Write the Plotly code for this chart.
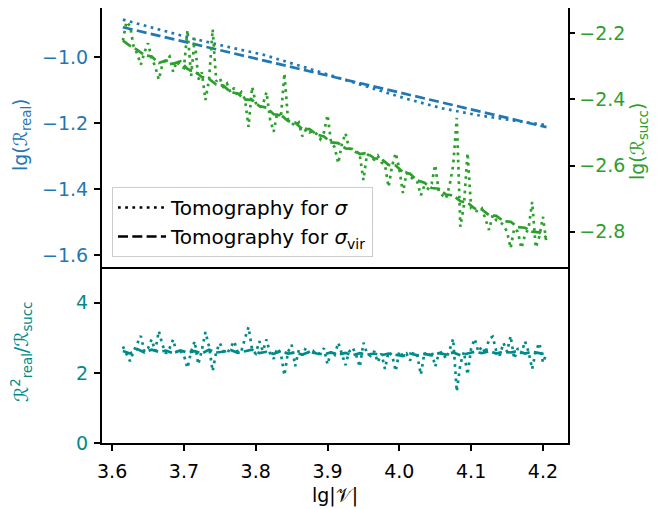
import plotly.graph_objects as go

# lg|V| sample points (fine grid for the noisy sigma runs, every 2nd one for sigma_vir)
x_fine = [3.615, 3.620, 3.625, 3.630, 3.635, 3.640, 3.645, 3.650, 3.655, 3.660,
          3.665, 3.670, 3.675, 3.680, 3.685, 3.690, 3.695, 3.700, 3.705, 3.710,
          3.715, 3.720, 3.725, 3.730, 3.735, 3.740, 3.745, 3.750, 3.755, 3.760,
          3.765, 3.770, 3.775, 3.780, 3.785, 3.790, 3.795, 3.800, 3.805, 3.810,
          3.815, 3.820, 3.825, 3.830, 3.835, 3.840, 3.845, 3.850, 3.855, 3.860,
          3.865, 3.870, 3.875, 3.880, 3.885, 3.890, 3.895, 3.900, 3.905, 3.910,
          3.915, 3.920, 3.925, 3.930, 3.935, 3.940, 3.945, 3.950, 3.955, 3.960,
          3.965, 3.970, 3.975, 3.980, 3.985, 3.990, 3.995, 4.000, 4.005, 4.010,
          4.015, 4.020, 4.025, 4.030, 4.035, 4.040, 4.045, 4.050, 4.055, 4.060,
          4.065, 4.070, 4.075, 4.080, 4.085, 4.090, 4.095, 4.100, 4.105, 4.110,
          4.115, 4.120, 4.125, 4.130, 4.135, 4.140, 4.145, 4.150, 4.155, 4.160,
          4.165, 4.170, 4.175, 4.180, 4.185, 4.190, 4.195, 4.200, 4.205]
x_coarse = x_fine[::2]
x_blue = [3.615, 3.66, 3.71, 3.76, 3.81, 3.86, 3.91, 3.96, 4.01, 4.06, 4.11, 4.16, 4.205]

# lg(R_real)
real_sigma = [-0.886, -0.912, -0.942, -0.968, -0.992, -1.025, -1.058,
              -1.092, -1.126, -1.155, -1.176, -1.192, -1.206]
real_vir = [-0.909, -0.932, -0.958, -0.984, -1.010, -1.035, -1.061,
            -1.086, -1.112, -1.138, -1.163, -1.189, -1.212]

# lg(R_succ)
succ_sigma = [-2.222, -2.165, -2.178, -2.240, -2.262, -2.295, -2.258, -2.230, -2.275, -2.300,
              -2.340, -2.295, -2.280, -2.270, -2.316, -2.285, -2.300, -2.305, -2.190, -2.330,
              -2.215, -2.340, -2.318, -2.402, -2.340, -2.188, -2.345, -2.335, -2.365, -2.352,
              -2.380, -2.365, -2.390, -2.378, -2.400, -2.483, -2.362, -2.410, -2.425, -2.415,
              -2.378, -2.460, -2.498, -2.440, -2.455, -2.321, -2.462, -2.470, -2.480, -2.470,
              -2.512, -2.490, -2.500, -2.495, -2.505, -2.520, -2.500, -2.447, -2.530, -2.545,
              -2.593, -2.535, -2.502, -2.548, -2.555, -2.560, -2.570, -2.644, -2.565, -2.575,
              -2.582, -2.570, -2.590, -2.598, -2.665, -2.600, -2.562, -2.610, -2.683, -2.622,
              -2.630, -2.645, -2.650, -2.690, -2.660, -2.670, -2.655, -2.598, -2.680, -2.690,
              -2.700, -2.660, -2.600, -2.456, -2.785, -2.720, -2.562, -2.730, -2.735, -2.740,
              -2.730, -2.760, -2.795, -2.750, -2.765, -2.770, -2.780, -2.800, -2.850, -2.790,
              -2.800, -2.850, -2.810, -2.790, -2.710, -2.848, -2.815, -2.755, -2.835]
succ_vir = [-2.222, -2.238, -2.250, -2.266, -2.270, -2.290, -2.282, -2.292, -2.285, -2.308,
            -2.315, -2.332, -2.338, -2.355, -2.358, -2.378, -2.382, -2.400, -2.402, -2.420,
            -2.425, -2.445, -2.447, -2.465, -2.470, -2.490, -2.490, -2.506, -2.512, -2.530,
            -2.532, -2.548, -2.550, -2.565, -2.562, -2.578, -2.580, -2.598, -2.600, -2.620,
            -2.625, -2.645, -2.652, -2.668, -2.670, -2.688, -2.690, -2.708, -2.712, -2.730,
            -2.733, -2.750, -2.752, -2.768, -2.770, -2.786, -2.788, -2.800, -2.802, -2.818]

# R_real^2 / R_succ
ratio_sigma = [2.75, 2.55, 2.33, 2.62, 2.85, 3.05, 2.60, 2.70, 2.95, 2.62,
               3.19, 2.80, 2.55, 2.70, 2.95, 2.55, 2.62, 2.50, 2.14, 2.60,
               2.90, 2.24, 2.65, 3.16, 2.75, 2.05, 2.60, 2.85, 2.62, 2.55,
               2.72, 2.90, 2.58, 2.62, 2.98, 3.30, 2.65, 2.55, 2.90, 2.62,
               2.95, 2.55, 2.40, 2.70, 2.55, 1.93, 2.60, 2.80, 2.19, 2.65,
               2.50, 2.72, 2.55, 2.62, 2.50, 2.58, 2.70, 2.24, 2.62, 2.52,
               2.86, 2.55, 2.22, 2.60, 2.72, 2.50, 2.17, 2.86, 2.55, 2.48,
               2.62, 2.30, 2.55, 2.11, 2.60, 2.50, 2.05, 2.62, 2.48, 2.55,
               2.35, 2.60, 2.50, 1.95, 2.58, 2.45, 2.62, 2.18, 2.55, 2.60,
               2.40, 2.65, 2.97, 1.47, 2.25, 2.60, 1.95, 2.70, 2.97, 2.60,
               2.75, 2.55, 2.97, 3.03, 2.62, 2.50, 2.85, 2.60, 3.05, 2.40,
               2.70, 2.55, 2.90, 2.60, 2.11, 2.62, 2.85, 2.29, 2.55]
ratio_vir = [2.62, 2.55, 2.68, 2.58, 2.66, 2.60, 2.63, 2.56, 2.64, 2.58,
             2.62, 2.55, 2.66, 2.58, 2.60, 2.65, 2.57, 2.62, 2.66, 2.56,
             2.60, 2.54, 2.62, 2.55, 2.58, 2.52, 2.60, 2.55, 2.53, 2.58,
             2.52, 2.57, 2.50, 2.56, 2.52, 2.55, 2.50, 2.55, 2.52, 2.48,
             2.55, 2.50, 2.54, 2.50, 2.56, 2.52, 2.58, 2.50, 2.55, 2.60,
             2.56, 2.62, 2.55, 2.60, 2.58, 2.62, 2.55, 2.60, 2.56, 2.52]

assert len(succ_sigma) == len(x_fine) and len(ratio_sigma) == len(x_fine)
assert len(succ_vir) == len(x_coarse) and len(ratio_vir) == len(x_coarse)

BLUE = '#1f77b4'
GREEN = '#2ca02c'
TEAL = '#008b8b'
DOT = '2.7px,4.5px'
DASH = '10px,4.3px'
LW = 2.7
FONT = 'DejaVu Sans'
FS = 19

# the page body adds an 8px margin, so the figure is 8px smaller each way
W, H = 649, 501

fig = go.Figure()

fig.add_trace(go.Scatter(x=x_blue, y=real_sigma, mode='lines', xaxis='x', yaxis='y',
                         line=dict(color=BLUE, width=LW, dash=DOT), showlegend=False))
fig.add_trace(go.Scatter(x=x_blue, y=real_vir, mode='lines', xaxis='x', yaxis='y',
                         line=dict(color=BLUE, width=LW, dash=DASH), showlegend=False))
fig.add_trace(go.Scatter(x=x_fine, y=succ_sigma, mode='lines', xaxis='x', yaxis='y3',
                         line=dict(color=GREEN, width=LW, dash=DOT), showlegend=False))
fig.add_trace(go.Scatter(x=x_coarse, y=succ_vir, mode='lines', xaxis='x', yaxis='y3',
                         line=dict(color=GREEN, width=LW, dash=DASH), showlegend=False))
fig.add_trace(go.Scatter(x=x_fine, y=ratio_sigma, mode='lines', xaxis='x2', yaxis='y2',
                         line=dict(color=TEAL, width=LW, dash=DOT), showlegend=False))
fig.add_trace(go.Scatter(x=x_coarse, y=ratio_vir, mode='lines', xaxis='x2', yaxis='y2',
                         line=dict(color=TEAL, width=LW, dash=DASH), showlegend=False))

# legend entries (black samples like the original)
fig.add_trace(go.Scatter(x=[None], y=[None], mode='lines', xaxis='x', yaxis='y',
                         line=dict(color='black', width=LW, dash=DOT),
                         name='Tomography for <i>σ</i>'))
fig.add_trace(go.Scatter(x=[None], y=[None], mode='lines', xaxis='x', yaxis='y',
                         line=dict(color='black', width=LW, dash=DASH),
                         name='Tomography for <i>σ</i><sub>vir</sub>'))

xdom = [93.7 / W, 559.7 / W]
top_dom = [1 - 259.3 / H, 1.0]
bot_dom = [1 - 435.3 / H, 1 - 259.3 / H]
xr = [3.5855, 4.2345]

axis_common = dict(showline=True, linecolor='black', linewidth=1.5,
                   showgrid=False, zeroline=False, automargin=False,
                   ticks='outside', ticklen=6, tickwidth=1.5, tickcolor='black')

fig.update_layout(
    width=W, height=H,
    margin=dict(l=0, r=0, t=0, b=0),
    paper_bgcolor='white', plot_bgcolor='white',
    font=dict(family=FONT, size=FS, color='black'),
    xaxis=dict(axis_common, domain=xdom, range=xr, anchor='y', matches='x2',
               showticklabels=False, ticks='', mirror=True),
    yaxis=dict(axis_common, domain=top_dom, range=[-1.637, -0.8506], anchor='x',
               tickvals=[-1.6, -1.4, -1.2, -1.0], ticktext=['−1.6', '−1.4', '−1.2', '−1.0'],
               tickfont=dict(color=BLUE, size=FS), ticklabelstandoff=2),
    yaxis3=dict(axis_common, range=[-2.9077, -2.1235], overlaying='y', side='right', anchor='x',
                tickvals=[-2.8, -2.6, -2.4, -2.2], ticktext=['−2.8', '−2.6', '−2.4', '−2.2'],
                tickfont=dict(color=GREEN, size=FS)),
    xaxis2=dict(axis_common, domain=xdom, range=xr, anchor='y2',
                tickvals=[3.6, 3.7, 3.8, 3.9, 4.0, 4.1, 4.2],
                ticktext=['3.6', '3.7', '3.8', '3.9', '4.0', '4.1', '4.2'],
                tickfont=dict(size=FS), ticklabelstandoff=4),
    yaxis2=dict(axis_common, domain=bot_dom, range=[0, 5.0], anchor='x2', mirror=True,
                tickvals=[0, 2, 4], tickfont=dict(color=TEAL, size=FS), ticklabelstandoff=2),
    legend=dict(x=104 / W, y=1 - 179 / H, xanchor='left', yanchor='top',
                bgcolor='rgba(255,255,255,0.8)', bordercolor='#cccccc', borderwidth=1,
                font=dict(family=FONT, size=20, color='black'), tracegroupgap=0,
                itemwidth=48),
)

fig.add_annotation(text='lg(ℛ<sub>real</sub>)', xref='paper', yref='paper',
                   x=13 / W, y=1 - 127 / H, textangle=-90, showarrow=False,
                   xanchor='center', yanchor='middle', font=dict(color=BLUE, size=FS))
fig.add_annotation(text='ℛ<sup>2</sup><sub>real</sub>/ℛ<sub>succ</sub>', xref='paper', yref='paper',
                   x=13 / W, y=1 - 344 / H, textangle=-90, showarrow=False,
                   xanchor='center', yanchor='middle', font=dict(color=TEAL, size=FS))
fig.add_annotation(text='lg(ℛ<sub>succ</sub>)', xref='paper', yref='paper',
                   x=631 / W, y=1 - 134 / H, textangle=-90, showarrow=False,
                   xanchor='center', yanchor='middle', font=dict(color=GREEN, size=FS))
fig.add_annotation(text='lg|𝒱|', xref='paper', yref='paper',
                   x=327 / W, y=1 - 487 / H, showarrow=False,
                   xanchor='center', yanchor='middle', font=dict(color='black', size=FS))

fig.write_html("out.html")
